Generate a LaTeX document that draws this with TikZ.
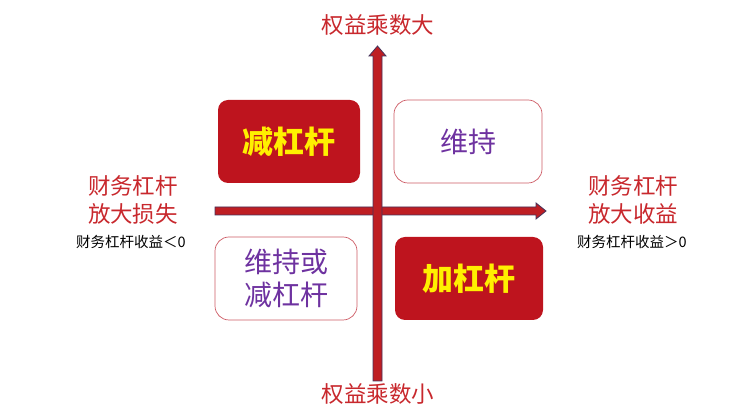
\documentclass[tikz,border=0pt]{standalone}
\usepackage{fontspec}
\newfontfamily\cjk{Noto Sans CJK SC}
\begin{document}
\begin{tikzpicture}[x=1pt,y=-1pt,
  arr/.style={fill={rgb,255:red,190;green,30;blue,35},draw={rgb,255:red,70;green,50;blue,90},line width=0.8pt},
  solid box/.style={fill={rgb,255:red,190;green,20;blue,30},rounded corners=10pt,minimum width=142pt,minimum height=83pt,font=\cjk\bfseries\fontsize{31}{31}\selectfont,text={rgb,255:red,255;green,240;blue,0}},
  open box/.style={draw={rgb,255:red,205;green,90;blue,100},line width=0.7pt,rounded corners=14pt,minimum width=148pt,minimum height=83pt,font=\cjk\fontsize{28}{33}\selectfont,text={rgb,255:red,110;green,50;blue,160},align=center},
  lab/.style={font=\cjk\fontsize{22.5}{28}\selectfont,text={rgb,255:red,200;green,40;blue,45},align=center},
  small/.style={font=\cjk\fontsize{14.5}{16}\selectfont}]
\useasboundingbox (0,0) rectangle (756,419);
\node[solid box] (a) at (289,141.5) {减杠杆};
\node[open box] (b) at (468,141.5) {维持};
\node[open box,minimum width=142pt] (c) at (286,278.5) {维持或\\减杠杆};
\node[solid box,minimum width=148pt] (d) at (469,278.5) {加杠杆};
\draw[arr] (215,207) -- (536,207) -- (536,203) -- (546,211) -- (536,219) -- (536,215) -- (215,215) -- cycle;
\draw[arr] (373,381) -- (373,56) -- (369,56) -- (377.5,46) -- (386,56) -- (382,56) -- (382,381) -- cycle;
\node[lab] (t) at (378,25) {权益乘数大};
\node[lab] (bt) at (378,394) {权益乘数小};
\node[lab] (l) at (133,200) {财务杠杆\\放大损失};
\node[small] (ls) at (131,242) {财务杠杆收益＜0};
\node[lab] (r) at (633,200) {财务杠杆\\放大收益};
\node[small] (rs) at (632,242) {财务杠杆收益＞0};
\end{tikzpicture}
\end{document}
